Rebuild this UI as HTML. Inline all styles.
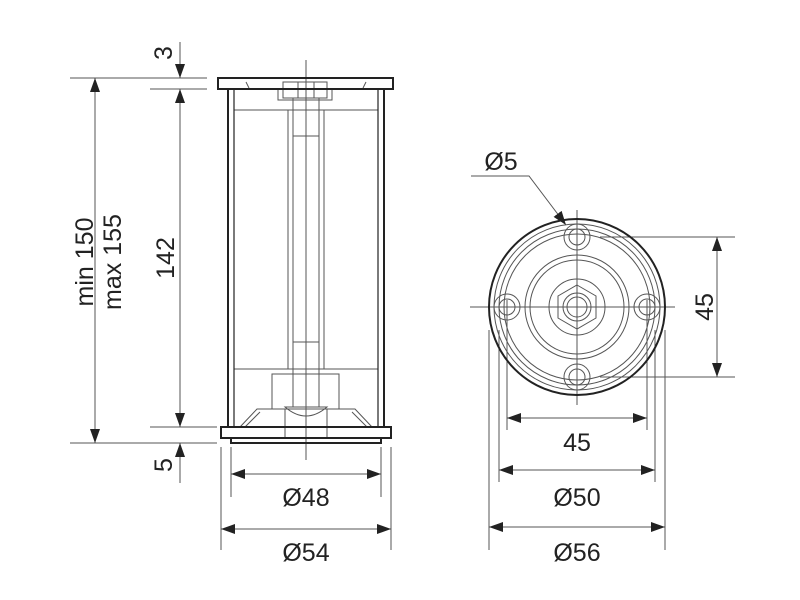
<!DOCTYPE html>
<html><head><style>body{margin:0;background:#fff}svg{display:block}text{font-family:"Liberation Sans",sans-serif;font-size:25px;fill:#222}</style></head>
<body>
<svg width="800" height="600" viewBox="0 0 800 600" xmlns="http://www.w3.org/2000/svg">
<defs>
<marker id="a" markerWidth="14" markerHeight="10" refX="14" refY="5" orient="auto-start-reverse" markerUnits="userSpaceOnUse"><path d="M0,0 L14,5 L0,10 z" fill="#222"/></marker>
</defs>
<g stroke="#555" stroke-width="1" fill="none">
<line x1="70" y1="78" x2="207" y2="78"/><line x1="150" y1="89" x2="207" y2="89"/>
<line x1="150" y1="427" x2="217" y2="427"/><line x1="70" y1="443" x2="217" y2="443"/>
<line x1="231" y1="447" x2="231" y2="497"/><line x1="381" y1="447" x2="381" y2="497"/>
<line x1="221" y1="447" x2="221" y2="550"/><line x1="391" y1="447" x2="391" y2="550"/>
<line x1="180" y1="42" x2="180" y2="78" marker-end="url(#a)"/>
<line x1="180" y1="89" x2="180" y2="427" marker-start="url(#a)" marker-end="url(#a)"/>
<line x1="180" y1="443" x2="180" y2="483" marker-start="url(#a)"/>
<line x1="95" y1="78" x2="95" y2="443" marker-start="url(#a)" marker-end="url(#a)"/>
<line x1="231" y1="474" x2="381" y2="474" marker-start="url(#a)" marker-end="url(#a)"/>
<line x1="221" y1="529" x2="391" y2="529" marker-start="url(#a)" marker-end="url(#a)"/>
<line x1="306" y1="60" x2="306" y2="460"/>
<line x1="234" y1="110" x2="378" y2="110"/>
<line x1="234" y1="369" x2="378" y2="369"/>
<rect x="283" y="82" width="44" height="16"/>
<rect x="278" y="89" width="54" height="11"/>
<rect x="293" y="98" width="26" height="38"/>
<line x1="298" y1="82" x2="298" y2="98"/><line x1="314" y1="82" x2="314" y2="98"/>
<line x1="288" y1="110" x2="288" y2="369"/><line x1="324" y1="110" x2="324" y2="369"/>
<line x1="293" y1="136" x2="293" y2="407"/><line x1="319" y1="136" x2="319" y2="407"/>
<line x1="293" y1="342" x2="319" y2="342"/>
<rect x="272" y="374" width="67" height="35"/>
<path d="M285,407 Q306,425 327,407 Z"/>
<line x1="285" y1="409" x2="285" y2="438"/><line x1="327" y1="409" x2="327" y2="438"/>
<path d="M240,427 L257,409 L355,409 L372,427"/>
<path d="M245,427 L260,412 M352,412 L367,427"/>
<line x1="246" y1="82" x2="249" y2="88"/><line x1="366" y1="82" x2="363" y2="88"/>
<line x1="600" y1="237" x2="735" y2="237"/><line x1="600" y1="377" x2="735" y2="377"/>
<line x1="507" y1="300" x2="507" y2="430"/><line x1="647" y1="300" x2="647" y2="430"/>
<line x1="499" y1="330" x2="499" y2="482"/><line x1="655" y1="330" x2="655" y2="482"/>
<line x1="489" y1="330" x2="489" y2="550"/><line x1="665" y1="330" x2="665" y2="550"/>
<line x1="717" y1="237" x2="717" y2="377" marker-start="url(#a)" marker-end="url(#a)"/>
<line x1="507" y1="418" x2="647" y2="418" marker-start="url(#a)" marker-end="url(#a)"/>
<line x1="499" y1="470" x2="655" y2="470" marker-start="url(#a)" marker-end="url(#a)"/>
<line x1="489" y1="527" x2="665" y2="527" marker-start="url(#a)" marker-end="url(#a)"/>
<polyline points="471,176 529,176 566,225" marker-end="url(#a)"/>
<line x1="577" y1="210" x2="577" y2="405"/><line x1="470" y1="307" x2="675" y2="307"/>
<circle cx="577" cy="307" r="83"/><circle cx="577" cy="307" r="78"/><circle cx="577" cy="307" r="73"/>
<circle cx="577" cy="307" r="52"/><circle cx="577" cy="307" r="47"/>
<circle cx="577" cy="307" r="28"/>
<polygon points="577,285 596,296 596,318 577,329 558,318 558,296"/>
<circle cx="577" cy="307" r="14"/><circle cx="577" cy="307" r="10"/>
<circle cx="577" cy="237" r="13"/><circle cx="577" cy="237" r="8"/>
<circle cx="577" cy="377" r="13"/><circle cx="577" cy="377" r="8"/>
<circle cx="507" cy="307" r="13"/><circle cx="507" cy="307" r="8"/>
<circle cx="647" cy="307" r="13"/><circle cx="647" cy="307" r="8"/>
</g>
<g stroke="#222" stroke-width="2" fill="none">
<rect x="218" y="78" width="175" height="11"/>
<line x1="228" y1="89" x2="228" y2="427"/><line x1="384" y1="89" x2="384" y2="427"/>
<line x1="234" y1="89" x2="234" y2="427" stroke-width="1.2"/><line x1="378" y1="89" x2="378" y2="427" stroke-width="1.2"/>
<rect x="221" y="427" width="170" height="11"/>
<rect x="231" y="438" width="150" height="5"/>
<circle cx="577" cy="307" r="88"/>
</g>
<text transform="translate(172,53) rotate(-90)" text-anchor="middle">3</text>
<text transform="translate(174,258) rotate(-90)" text-anchor="middle">142</text>
<text transform="translate(93,262) rotate(-90)" text-anchor="middle">min 150</text>
<text transform="translate(121,262) rotate(-90)" text-anchor="middle">max 155</text>
<text transform="translate(172,465) rotate(-90)" text-anchor="middle">5</text>
<text x="306" y="506" text-anchor="middle">Ø48</text>
<text x="306" y="561" text-anchor="middle">Ø54</text>
<text x="501" y="170" text-anchor="middle">Ø5</text>
<text transform="translate(713,307) rotate(-90)" text-anchor="middle">45</text>
<text x="577" y="451" text-anchor="middle">45</text>
<text x="577" y="506" text-anchor="middle">Ø50</text>
<text x="577" y="561" text-anchor="middle">Ø56</text>
</svg>
</body></html>
